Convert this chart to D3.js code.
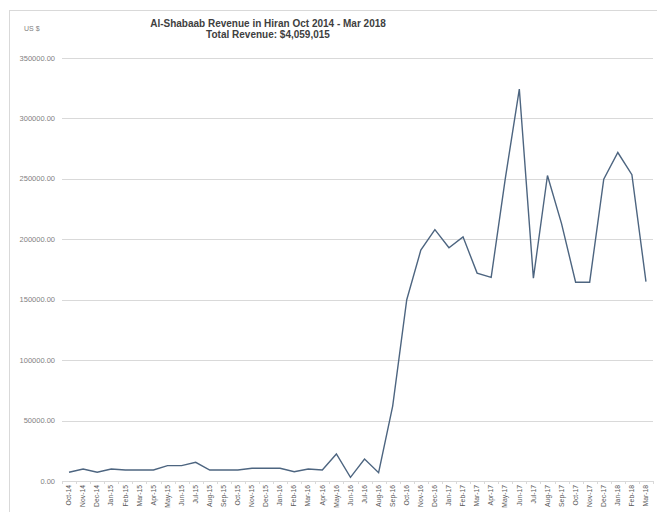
<!DOCTYPE html>
<html>
<head>
<meta charset="utf-8">
<script src="https://cdn.jsdelivr.net/npm/d3@7"></script>
<style>
  html, body { margin: 0; padding: 0; background: #fff; }
  svg { display: block; }
</style>
</head>
<body>
<svg id="chart" width="657" height="512"></svg>
<script>
const titleLines = ["Al-Shabaab Revenue in Hiran Oct 2014 - Mar 2018", "Total Revenue: $4,059,015"];
const yAxisLabel = "US $";
const months = ["Oct-14","Nov-14","Dec-14","Jan-15","Feb-15","Mar-15","Apr-15","May-15","Jun-15","Jul-15","Aug-15","Sep-15",
  "Oct-15","Nov-15","Dec-15","Jan-16","Feb-16","Mar-16","Apr-16","May-16","Jun-16","Jul-16","Aug-16","Sep-16",
  "Oct-16","Nov-16","Dec-16","Jan-17","Feb-17","Mar-17","Apr-17","May-17","Jun-17","Jul-17","Aug-17","Sep-17",
  "Oct-17","Nov-17","Dec-17","Jan-18","Feb-18","Mar-18"];
const revenue = [7200, 9900, 7200, 9900, 9100, 9100, 9100, 12700, 12700, 15500, 9100, 9100,
  9100, 10500, 10500, 10500, 7700, 9900, 9100, 22400, 3000, 18200, 6900, 62000,
  150000, 191000, 208000, 193000, 202000, 172000, 168500, 250000, 324300, 167800, 252800, 213000,
  164500, 164500, 249800, 271800, 253400, 165000];
const yTicks = [0, 50000, 100000, 150000, 200000, 250000, 300000, 350000];

const svg = d3.select("#chart");
const plotLeft = 62, plotRight = 653, plotTop = 58, plotBottom = 481;

// outer chart border
svg.append("rect").attr("x", 9.5).attr("y", 10.5).attr("width", 660).attr("height", 520)
  .attr("fill", "none").attr("stroke", "#d9d9d9").attr("stroke-width", 1);

const x = d3.scaleBand().domain(months).range([plotLeft, plotRight]);
const y = d3.scaleLinear().domain([0, 350000]).range([plotBottom, plotTop]);

// gridlines
svg.append("g").selectAll("line").data(yTicks.filter(d => d > 0)).join("line")
  .attr("x1", plotLeft).attr("x2", plotRight)
  .attr("y1", d => Math.round(y(d)) + 0.5).attr("y2", d => Math.round(y(d)) + 0.5)
  .attr("stroke", "#d9d9d9").attr("stroke-width", 1);

// y tick labels
svg.append("g").selectAll("text").data(yTicks).join("text")
  .attr("x", 55).attr("y", d => y(d) + 2.5)
  .attr("text-anchor", "end")
  .attr("font-family", "Liberation Sans, Arial, sans-serif")
  .attr("font-size", 7.5).attr("fill", "#7f7f7f")
  .text(d => d3.format(".2f")(d));

// x axis
const xAxis = d3.axisBottom(x).tickSize(0).tickPadding(3);
const gx = svg.append("g").attr("transform", `translate(0,${plotBottom})`).call(xAxis);
gx.select(".domain").attr("stroke", "#d9d9d9").attr("stroke-width", 1);
gx.selectAll(".tick text")
  .attr("font-family", "Liberation Sans, Arial, sans-serif")
  .attr("font-size", 6.8).attr("fill", "#595959")
  .attr("transform", "rotate(-90)")
  .attr("text-anchor", "end").attr("dy", "0.32em")
  .attr("x", -4).attr("y", 0);
// category separator ticks
svg.append("g").selectAll("line").data(months.concat(["_end"])).join("line")
  .attr("x1", (d, i) => Math.round(plotLeft + i * x.step()) + 0.5)
  .attr("x2", (d, i) => Math.round(plotLeft + i * x.step()) + 0.5)
  .attr("y1", plotBottom).attr("y2", plotBottom + 3)
  .attr("stroke", "#d9d9d9");

// line
const line = d3.line().x((d, i) => x(months[i]) + x.bandwidth() / 2).y(d => y(d));
svg.append("path").datum(revenue)
  .attr("d", line).attr("fill", "none")
  .attr("stroke", "#4d6580").attr("stroke-width", 1.4).attr("stroke-linejoin", "miter");

// titles
svg.append("text").attr("x", 268).attr("y", 27).attr("text-anchor", "middle")
  .attr("font-family", "Liberation Sans Narrow, Liberation Sans, Arial, sans-serif")
  .attr("font-size", 10).attr("font-weight", "bold").attr("fill", "#404040")
  .text(titleLines[0]);
svg.append("text").attr("x", 268).attr("y", 38).attr("text-anchor", "middle")
  .attr("font-family", "Liberation Sans Narrow, Liberation Sans, Arial, sans-serif")
  .attr("font-size", 10).attr("font-weight", "bold").attr("fill", "#404040")
  .text(titleLines[1]);
svg.append("text").attr("x", 24).attr("y", 31)
  .attr("font-family", "Liberation Sans, Arial, sans-serif")
  .attr("font-size", 7).attr("fill", "#7f7f7f")
  .text(yAxisLabel);
</script>
</body>
</html>
